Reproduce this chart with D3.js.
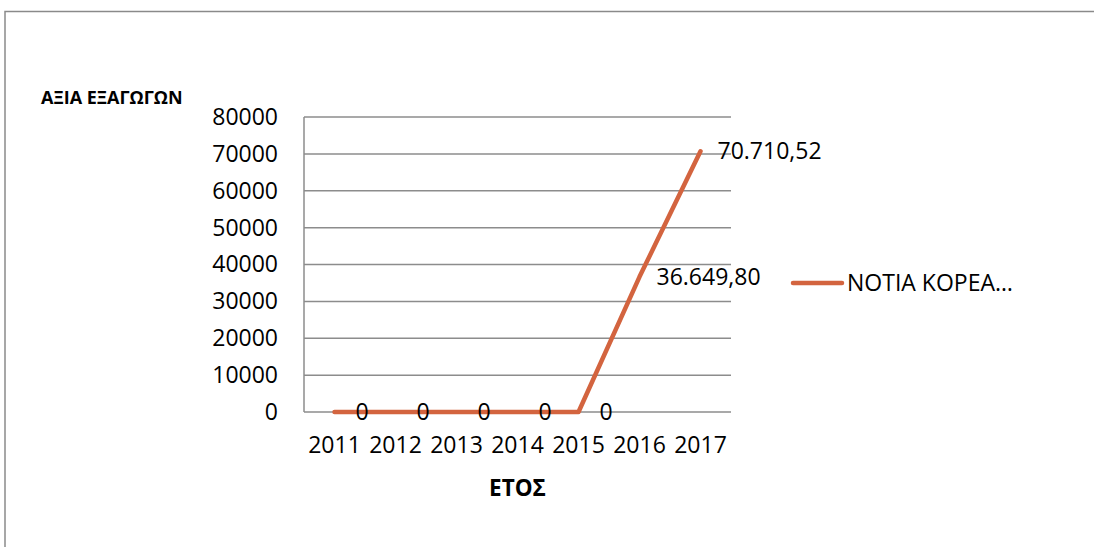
<!DOCTYPE html>
<html>
<head>
<meta charset="utf-8">
<script src="https://cdn.jsdelivr.net/npm/d3@7"></script>
<style>
  body { margin: 0; background: #fff; }
  svg { display: block; }
  text { font-family: "Open Sans", "Noto Sans", sans-serif; fill: #000; }
</style>
</head>
<body>
<svg id="chart" width="1094" height="547"></svg>
<script>
const years = ["2011", "2012", "2013", "2014", "2015", "2016", "2017"];
const values = [0, 0, 0, 0, 0, 36649.80, 70710.52];
const valueLabels = ["0", "0", "0", "0", "0", "36.649,80", "70.710,52"];
const yTicks = [0, 10000, 20000, 30000, 40000, 50000, 60000, 70000, 80000];
const seriesName = "ΝΟΤΙΑ ΚΟΡΕΑ…";
const yTitle = "ΑΞΙΑ ΕΞΑΓΩΓΩΝ";
const xTitle = "ΕΤΟΣ";

const svg = d3.select("#chart");
const lineColor = "#d3643f";
const gridColor = "#8c8c8c";
const fontSize = 23;
const fontFam = "'Open Sans', 'Noto Sans', sans-serif";

// outer frame (top and left edges visible)
svg.append("path")
  .attr("d", "M5,547 V11.5 H1094")
  .attr("fill", "none").attr("stroke", "#8a8a8a").attr("stroke-width", 1.5);

const plot = { left: 304, right: 731, top: 117, bottom: 412 };

const x = d3.scaleBand().domain(years).range([plot.left, plot.right]);
const y = d3.scaleLinear().domain([0, 80000]).range([plot.bottom, plot.top]);

// gridlines
svg.append("g").selectAll("line").data(yTicks).join("line")
  .attr("x1", plot.left).attr("x2", plot.right)
  .attr("y1", d => y(d)).attr("y2", d => y(d))
  .attr("stroke", gridColor).attr("stroke-width", 1.5);

// y axis line
svg.append("line")
  .attr("x1", plot.left).attr("x2", plot.left)
  .attr("y1", plot.top).attr("y2", plot.bottom)
  .attr("stroke", gridColor).attr("stroke-width", 1.5);

// y axis labels
const yAxis = d3.axisLeft(y).tickValues(yTicks).tickSize(0).tickPadding(26).tickFormat(d3.format("d"));
const gy = svg.append("g").attr("transform", `translate(${plot.left},0)`).call(yAxis);
gy.select(".domain").remove();
gy.selectAll("text").attr("font-size", fontSize).attr("font-family", fontFam).attr("fill", "#000");

// x axis labels
const xAxis = d3.axisBottom(x).tickSize(0).tickPadding(25);
const gx = svg.append("g").attr("transform", `translate(0,${plot.bottom})`).call(xAxis);
gx.select(".domain").remove();
gx.selectAll("text").attr("font-size", fontSize).attr("font-family", fontFam).attr("fill", "#000");

// line
const line = d3.line()
  .x((d, i) => x(years[i]) + x.bandwidth() / 2)
  .y(d => y(d));
svg.append("path").datum(values)
  .attr("d", line)
  .attr("fill", "none").attr("stroke", lineColor)
  .attr("stroke-width", 4.5).attr("stroke-linecap", "round").attr("stroke-linejoin", "round");

// data labels
svg.append("g").selectAll("text").data(values).join("text")
  .attr("x", (d, i) => x(years[i]) + x.bandwidth() / 2 + (d === 0 ? 21 : 17))
  .attr("y", d => y(d))
  .attr("dy", "0.35em")
  .attr("font-size", fontSize)
  .text((d, i) => valueLabels[i]);

// axis titles
svg.append("text").attr("x", 41).attr("y", 104)
  .attr("font-size", 18).attr("font-weight", "bold").text(yTitle);
svg.append("text").attr("x", (plot.left + plot.right) / 2).attr("y", 496)
  .attr("text-anchor", "middle").attr("font-size", 22.5).attr("font-weight", "bold").text(xTitle);

// legend
const ly = 283;
svg.append("line").attr("x1", 793).attr("x2", 842).attr("y1", ly).attr("y2", ly)
  .attr("stroke", lineColor).attr("stroke-width", 4.5).attr("stroke-linecap", "round");
svg.append("text").attr("x", 847).attr("y", ly).attr("dy", "0.35em")
  .attr("font-size", fontSize).text(seriesName);
</script>
</body>
</html>
